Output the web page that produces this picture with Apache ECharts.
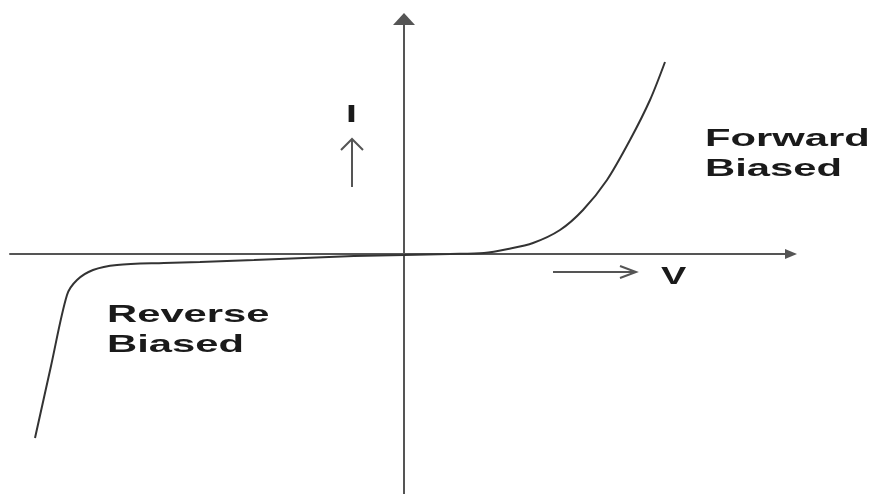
<!DOCTYPE html>
<html>
<head>
<meta charset="utf-8">
<script src="https://cdn.jsdelivr.net/npm/echarts@6/dist/echarts.min.js"></script>
<style>
  html, body { margin: 0; padding: 0; background: #fff; }
  #main { width: 878px; height: 494px; }
</style>
</head>
<body>
<div id="main"></div>
<script>
// diode I-V curve, arbitrary units
const reverseV = [-369, -353, -337, -327, -311, -287, -240, -204, -150, -100, -50, 0]
const reverseI = [-184, -112, -41, -26, -16, -11, -9, -8, -6, -4, -2, -1]
const forwardV = [0, 46, 80, 104, 129, 156, 179, 203, 226, 246, 261]
const forwardI = [-1, 0, 1, 5, 11, 24, 44, 74, 114, 154, 192]

const curve = reverseV.map((v, i) => [v, reverseI[i]])
  .concat(forwardV.slice(1).map((v, i) => [v, forwardI[i + 1]]))

const chart = echarts.init(document.getElementById('main'))

// the source picture is stretched sideways, so the labels get a scaleX
function label(text, x, y, size, sx) {
  return {
    type: 'text', x: x, y: y, scaleX: sx,
    style: {
      text: text,
      fontFamily: 'Liberation Sans, Arial, sans-serif',
      fontWeight: 'bold',
      fontSize: size,
      lineHeight: 30,
      fill: '#1a1a1a'
    }
  }
}

chart.setOption({
  backgroundColor: '#fff',
  animation: false,
  grid: { left: 10, right: 87, top: 19, bottom: 0 },
  xAxis: {
    type: 'value',
    min: -394,
    max: 387,
    axisLine: { onZero: true, symbol: ['none', 'triangle'], symbolSize: [10, 12], lineStyle: { color: '#555', width: 2 } },
    axisTick: { show: false },
    axisLabel: { show: false },
    splitLine: { show: false }
  },
  yAxis: {
    type: 'value',
    min: -240,
    max: 235,
    axisLine: { onZero: true, symbol: ['none', 'triangle'], symbolSize: [22, 12], lineStyle: { color: '#555', width: 2 } },
    axisTick: { show: false },
    axisLabel: { show: false },
    splitLine: { show: false }
  },
  series: [{
    type: 'line',
    data: curve,
    smooth: 0.3,
    showSymbol: false,
    lineStyle: { color: '#333', width: 2 }
  }],
  graphic: [
    label('Forward\nBiased', 705, 124, 24, 1.74),
    label('Reverse\nBiased', 107, 300, 24, 1.74),
    label('I', 346, 101, 23, 1.7),
    label('V', 661, 262, 24, 1.58),
    // small arrows beside the labels
    { type: 'polyline', shape: { points: [[352, 187], [352, 139]] }, style: { stroke: '#555', lineWidth: 2 } },
    { type: 'polyline', shape: { points: [[341, 150], [352, 139], [363, 150]] }, style: { stroke: '#555', lineWidth: 2, fill: null } },
    { type: 'polyline', shape: { points: [[553, 272], [636, 272]] }, style: { stroke: '#555', lineWidth: 2 } },
    { type: 'polyline', shape: { points: [[620, 266], [636, 272], [620, 278]] }, style: { stroke: '#555', lineWidth: 2, fill: null } }
  ]
})
</script>
</body>
</html>
